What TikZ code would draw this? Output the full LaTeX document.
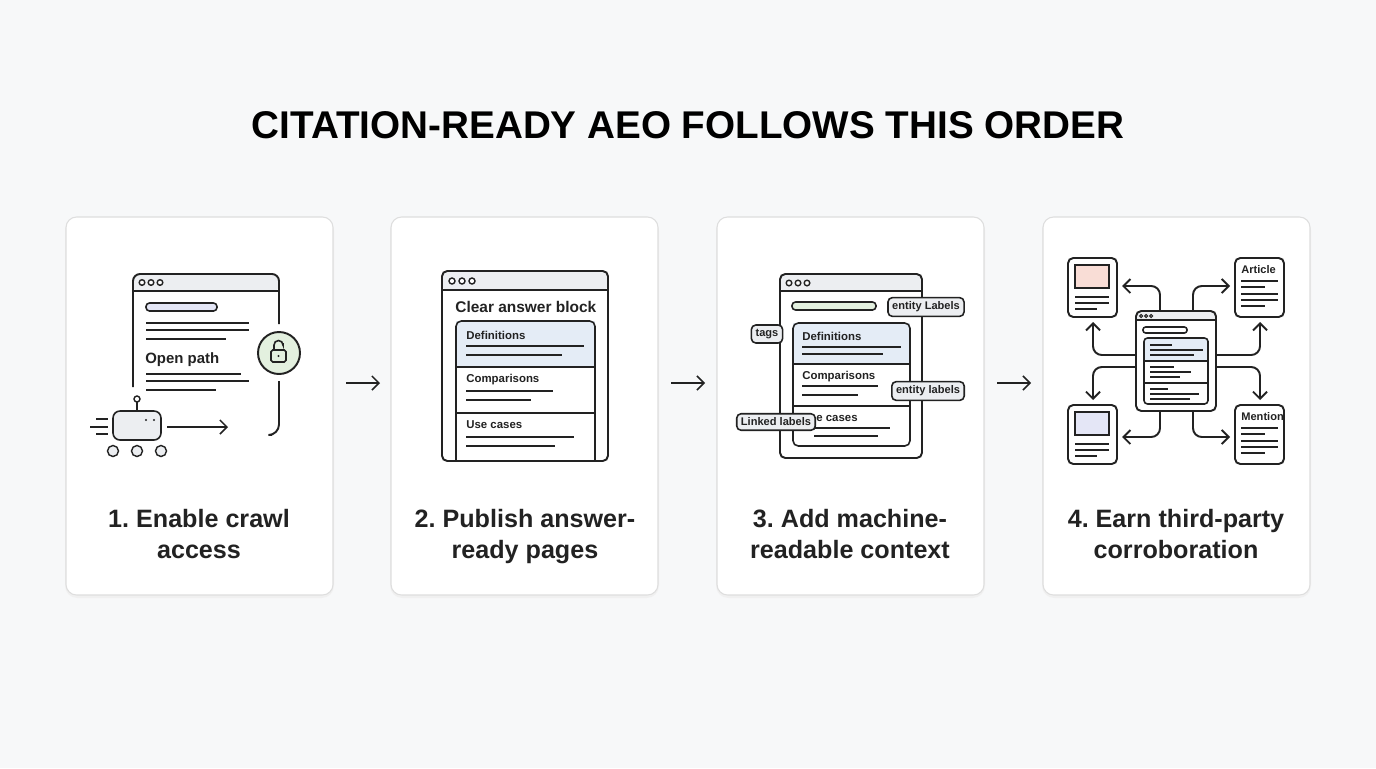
\documentclass[tikz,border=0pt]{standalone}
\usepackage{fontspec}
\setmainfont{Liberation Sans}
\usetikzlibrary{arrows.meta,positioning}
\definecolor{ink}{HTML}{222222}
\definecolor{bgc}{HTML}{F7F8F9}
\definecolor{bar}{HTML}{ECEEF1}
\definecolor{paleblue}{HTML}{E4ECF6}
\definecolor{lav}{HTML}{E4E6F6}
\definecolor{palegreen}{HTML}{E3F0DF}
\definecolor{pink}{HTML}{F9DDD6}
\tikzset{
  card/.style={draw=black!13, fill=white, rounded corners=6pt, line width=0.6pt},
  cardshade/.style={fill=black!6, rounded corners=7pt},
  win/.style={draw=ink, line width=1.1pt, rounded corners=3pt},
  ln/.style={draw=ink, line width=0.9pt},
  stepcap/.style={font=\fontsize{14.3}{17.5}\selectfont\bfseries, align=center, text=ink, anchor=north},
  small/.style={font=\fontsize{6.5}{8}\selectfont\bfseries, text=ink, anchor=west, inner sep=0pt},
  tag/.style={draw=ink, fill=bar, line width=0.9pt, rounded corners=2.5pt, inner sep=2.4pt,
    font=\fontsize{6.3}{8}\selectfont\bfseries, text=ink},
  flow/.style={draw=ink, line width=0.9pt, -{Straight Barb[length=4pt,width=8pt]}},
  link/.style={draw=ink, line width=1.1pt, rounded corners=5pt, -{Straight Barb[length=4pt,width=8pt]}},
  dot/.style={draw=ink, line width=0.8pt, fill=white}
}
\begin{document}
\frenchspacing
\begin{tikzpicture}[x=0.02cm,y=-0.02cm]
\fill[bgc] (0,0) rectangle (1376,768);
\useasboundingbox (0,0) rectangle (1376,768);
\node[font=\fontsize{22}{26}\selectfont\bfseries, text=black] (title) at (688,125) {CITATION-READY AEO FOLLOWS THIS ORDER};
% cards
\foreach \x/\n in {66/a,391/b,717/c,1043/d}{
  \path[cardshade] (\x-1,218) rectangle ++(269,380);
  \path[card] (\x,217) rectangle ++(267,378) coordinate (\n);
}
\node[stepcap] (s1) at (199,503) {1. Enable crawl\\access};
\node[stepcap] (s2) at (525,503) {2. Publish answer-\\ready pages};
\node[stepcap] (s3) at (850,503) {3. Add machine-\\readable context};
\node[stepcap] (s4) at (1176,503) {4. Earn third-party\\corroboration};
\foreach \x in {346,671,997}
  \draw[flow] (\x,383) coordinate (p\x) -- ++(34,0) coordinate (q\x);

% panel 1
\fill[bar, rounded corners=3pt] (133,274) rectangle (279,291);
\draw[ink, line width=1.1pt] (133,291) -- (279,291);
\draw[win, rounded corners=4pt] (133,387) -- (133,274) -- (279,274) -- (279,324);
\draw[win, rounded corners=6pt] (279,381) -- (279,435) -- (272,435);
\foreach \i in {0,1,2} \draw[dot] (142+\i*9,282.5) circle (2.8);
\draw[ln, fill=lav, rounded corners=2pt] (146,303) rectangle (217,311);
\draw[ln] (146,323) -- (249,323) (146,330) -- (249,330) (146,339) -- (226,339);
\node[small, font=\fontsize{8.5}{10}\selectfont\bfseries] (op) at (145,360) {Open path};
\draw[ln] (146,374) -- (241,374) (146,381) -- (249,381) (146,390) -- (216,390);
\node[circle, draw=ink, line width=1.1pt, fill=palegreen, minimum size=42*0.02cm] (lock) at (279,353) {};
\draw[ink, line width=0.9pt] (274,350) -- (274,345) arc (180:360:4.5) -- (283,343);
\draw[ink, line width=0.9pt, rounded corners=1pt] (271,350) rectangle (286,362);
\fill[ink] (278.5,356) circle (1.2);
\draw[ln] (137,402) -- (137,411);
\draw[dot] (137,399) circle (3);
\draw[ln, fill=bar, rounded corners=4pt] (113,411) rectangle (161,440);
\node[inner sep=0pt] (bot) at (137,425.5) {};
\fill[ink] (146,420) circle (1.2) (154,420) circle (1.2);
\foreach \i in {0,1,2} \draw[dot, fill=bar] (113+\i*24,451) circle (5.5);
\draw[ln] (96,419) -- (108,419) (90,427) -- (108,427) (96,434) -- (108,434);
\coordinate (goal) at (228,427);
\draw[flow] (167,427) -- (goal);

% panel 2
\fill[bar, rounded corners=3pt] (442,271) rectangle (608,290);
\draw[ink, line width=1.1pt] (442,290) -- (608,290);
\draw[win] (442,271) rectangle (608,461);
\foreach \i in {0,1,2} \draw[dot] (452+\i*10,281) circle (3);
\node[small, font=\fontsize{8.8}{10}\selectfont\bfseries] (cab) at (455,307) {Clear answer block};
\fill[paleblue] (456,321) rectangle (595,367);
\draw[ln, rounded corners=3pt] (456,461) -- (456,321) -- (595,321) -- (595,461);
\draw[ln] (456,367) -- (595,367) (456,413) -- (595,413);
\node[small] (d2) at (466,335) {Definitions};
\node[small] (c2) at (466,380) {Comparisons};
\node[small] (u2) at (466,425) {Use cases};
\draw[ln] (466,346) -- (584,346) (466,355) -- (562,355)
          (466,391) -- (553,391) (466,400) -- (531,400)
          (466,437) -- (574,437) (466,446) -- (555,446);

% panel 3
\fill[bar, rounded corners=3pt] (780,274) rectangle (922,291);
\draw[ink, line width=1.1pt] (780,291) -- (922,291);
\draw[win] (780,274) rectangle (922,458);
\foreach \i in {0,1,2} \draw[dot] (789+\i*9,283) circle (2.8);
\draw[ln, fill=palegreen, rounded corners=2pt] (792,302) rectangle (876,310);
\fill[paleblue] (793,323) rectangle (910,364);
\draw[ln, rounded corners=3pt] (793,323) rectangle (910,446);
\draw[ln] (793,364) -- (910,364) (793,406) -- (910,406);
\node[small] (d3) at (802,336) {Definitions};
\node[small] (c3) at (802,377) {Comparisons};
\node[small] (u3) at (816,418) {e cases};
\node[tag] (t1) at (926,307) {entity Labels};
\node[tag] (t2) at (767,334) {tags};
\node[tag] (t3) at (928,391) {entity labels};
\node[tag] (t4) at (776,422) {Linked labels};
\draw[ln] (802,347) -- (901,347) (802,354) -- (883,354)
          (802,386) -- (878,386) (802,395) -- (858,395)
          (814,428) -- (890,428) (814,436) -- (878,436);

% panel 4
\fill[bar, rounded corners=2pt] (1136,311) rectangle (1216,320);
\draw[ink, line width=1.1pt] (1136,320) -- (1216,320);
\draw[win] (1136,311) rectangle (1216,411);
\node[inner sep=0pt] (hub) at (1176,361) {};
\foreach \i in {0,1,2} \draw[dot, line width=0.6pt] (1141+\i*5,316) circle (1.5);
\draw[ln, rounded corners=1.5pt] (1143,327) rectangle (1187,333);
\fill[paleblue] (1144,338) rectangle (1208,361);
\draw[ln, rounded corners=2pt] (1144,338) rectangle (1208,404);
\draw[ln] (1144,361) -- (1208,361) (1144,383) -- (1208,383);
\draw[ln, line width=0.7pt] (1150,345) -- (1172,345) (1150,350) -- (1203,350) (1150,355) -- (1194,355)
  (1150,367) -- (1174,367) (1150,372) -- (1191,372) (1150,377) -- (1180,377)
  (1150,389) -- (1168,389) (1150,394) -- (1199,394) (1150,399) -- (1190,399);
\foreach \n/\x/\y in {tl/1068/258, tr/1235/258, bl/1068/405, br/1235/405}{
  \draw[win] (\x,\y) rectangle ++(49,59) coordinate (\n);
}
\draw[ln, fill=pink] (1075,265) rectangle (1109,288);
\draw[ln, fill=lav] (1075,412) rectangle (1109,435);
\draw[ln] (1075,297) -- (1109,297) (1075,303) -- (1109,303) (1075,309) -- (1097,309)
          (1075,444) -- (1109,444) (1075,450) -- (1109,450) (1075,456) -- (1097,456);
\node[small, font=\fontsize{6.3}{8}\selectfont\bfseries] (art) at (1241,270) {Article};
\node[small, font=\fontsize{6.3}{8}\selectfont\bfseries] (men) at (1241,417) {Mention};
\draw[ln] (1241,281) -- (1278,281) (1241,287) -- (1265,287) (1241,294) -- (1278,294) (1241,300) -- (1278,300) (1241,306) -- (1265,306)
          (1241,428) -- (1278,428) (1241,434) -- (1265,434) (1241,441) -- (1278,441) (1241,447) -- (1278,447) (1241,453) -- (1265,453);
\draw[link] (1160,311) -- (1160,286) -- (1122,286);
\draw[link] (1193,311) -- (1193,286) -- (1230,286);
\draw[link] (1136,355) -- (1093,355) -- (1093,322);
\draw[link] (1216,355) -- (1260,355) -- (1260,322);
\draw[link] (1136,367) -- (1093,367) -- (1093,400);
\draw[link] (1216,367) -- (1260,367) -- (1260,400);
\draw[link] (1160,411) -- (1160,437) -- (1122,437);
\draw[link] (1193,411) -- (1193,437) -- (1230,437);
\end{tikzpicture}
\end{document}
